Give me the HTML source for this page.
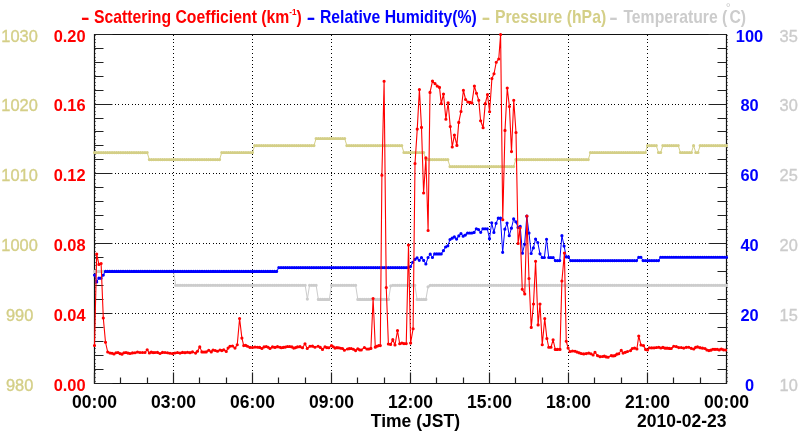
<!DOCTYPE html>
<html><head><meta charset="utf-8"><title>Scattering Coefficient / RH / Pressure / Temperature</title>
<style>html,body{margin:0;padding:0;background:#fff;width:800px;height:434px;overflow:hidden}svg{display:block}text{font-variant-ligatures:none;font-kerning:normal}</style>
</head><body>
<svg width="800" height="434" viewBox="0 0 800 434">
<rect width="800" height="434" fill="#fff"/>
<path d="M173.5 35V383 M252.5 35V383 M331.5 35V383 M410.5 35V383 M489.5 35V383 M568.5 35V383 M647.5 35V383" stroke="#000" stroke-width="1" stroke-dasharray="1 3 1 2 1 3 1 2 1 3" fill="none"/>
<path d="M95 313.5H726 M95 243.5H726 M95 173.5H726 M95 104.5H726" stroke="#000" stroke-width="1" stroke-dasharray="1 2 1 2 1 3 1 2 1 2 1 3 1 2 1 3" fill="none"/>
<path d="M95.5 35V383M727.5 35V383" stroke="#000" stroke-width="1" stroke-dasharray="1 3 1 2 1 3 1 2 1 3" opacity="0.5" fill="none"/>
<path d="M94.5 34.5H726.5V383.5H94.5Z" stroke="#111" stroke-width="1.2" fill="none"/>
<path d="M94.5 383.5h18 M726.5 383.5h-18 M94.5 369.5h9 M726.5 369.5h-9 M94.5 355.5h9 M726.5 355.5h-9 M94.5 341.5h9 M726.5 341.5h-9 M94.5 327.5h9 M726.5 327.5h-9 M94.5 313.5h18 M726.5 313.5h-18 M94.5 299.5h9 M726.5 299.5h-9 M94.5 285.5h9 M726.5 285.5h-9 M94.5 271.5h9 M726.5 271.5h-9 M94.5 257.5h9 M726.5 257.5h-9 M94.5 243.5h18 M726.5 243.5h-18 M94.5 229.5h9 M726.5 229.5h-9 M94.5 215.5h9 M726.5 215.5h-9 M94.5 201.5h9 M726.5 201.5h-9 M94.5 187.5h9 M726.5 187.5h-9 M94.5 173.5h18 M726.5 173.5h-18 M94.5 159.5h9 M726.5 159.5h-9 M94.5 145.5h9 M726.5 145.5h-9 M94.5 131.5h9 M726.5 131.5h-9 M94.5 118.5h9 M726.5 118.5h-9 M94.5 104.5h18 M726.5 104.5h-18 M94.5 90.5h9 M726.5 90.5h-9 M94.5 76.5h9 M726.5 76.5h-9 M94.5 62.5h9 M726.5 62.5h-9 M94.5 48.5h9 M726.5 48.5h-9 M94.5 34.5h18 M726.5 34.5h-18 M94.5 383.5v-11 M120.5 383.5v-6 M147.5 383.5v-6 M173.5 383.5v-11 M199.5 383.5v-6 M226.5 383.5v-6 M252.5 383.5v-11 M278.5 383.5v-6 M305.5 383.5v-6 M331.5 383.5v-11 M357.5 383.5v-6 M384.5 383.5v-6 M410.5 383.5v-11 M436.5 383.5v-6 M463.5 383.5v-6 M489.5 383.5v-11 M515.5 383.5v-6 M542.5 383.5v-6 M568.5 383.5v-11 M594.5 383.5v-6 M621.5 383.5v-6 M647.5 383.5v-11 M673.5 383.5v-6 M700.5 383.5v-6 M726.5 383.5v-11" stroke="#222" stroke-width="1.2" fill="none"/>
<polyline points="94.50,152.60 96.69,152.60 98.89,152.60 101.08,152.60 103.28,152.60 105.47,152.60 107.67,152.60 109.86,152.60 112.06,152.60 114.25,152.60 116.44,152.60 118.64,152.60 120.83,152.60 123.03,152.60 125.22,152.60 127.42,152.60 129.61,152.60 131.81,152.60 134.00,152.60 136.19,152.60 138.39,152.60 140.58,152.60 142.78,152.60 144.97,152.60 147.17,152.60 149.36,159.60 151.56,159.60 153.75,159.60 155.94,159.60 158.14,159.60 160.33,159.60 162.53,159.60 164.72,159.60 166.92,159.60 169.11,159.60 171.31,159.60 173.50,159.60 175.69,159.60 177.89,159.60 180.08,159.60 182.28,159.60 184.47,159.60 186.67,159.60 188.86,159.60 191.06,159.60 193.25,159.60 195.44,159.60 197.64,159.60 199.83,159.60 202.03,159.60 204.22,159.60 206.42,159.60 208.61,159.60 210.81,159.60 213.00,159.60 215.19,159.60 217.39,159.60 219.58,159.60 221.78,152.50 223.97,152.50 226.17,152.50 228.36,152.50 230.56,152.50 232.75,152.50 234.94,152.50 237.14,152.50 239.33,152.50 241.53,152.50 243.72,152.50 245.92,152.50 248.11,152.50 250.31,152.50 252.50,152.50 254.69,145.60 256.89,145.60 259.08,145.60 261.28,145.60 263.47,145.60 265.67,145.60 267.86,145.60 270.06,145.60 272.25,145.60 274.44,145.60 276.64,145.60 278.83,145.60 281.03,145.60 283.22,145.60 285.42,145.60 287.61,145.60 289.81,145.60 292.00,145.60 294.19,145.60 296.39,145.60 298.58,145.60 300.78,145.60 302.97,145.60 305.17,145.60 307.36,145.60 309.56,145.60 311.75,145.60 313.94,145.60 316.14,138.50 318.33,138.50 320.53,138.50 322.72,138.50 324.92,138.50 327.11,138.50 329.31,138.50 331.50,138.50 333.69,138.50 335.89,138.50 338.08,138.50 340.28,138.50 342.47,138.50 344.67,138.50 346.86,145.60 349.06,145.60 351.25,145.60 353.44,145.60 355.64,145.60 357.83,145.60 360.03,145.60 362.22,145.60 364.42,145.60 366.61,145.60 368.81,145.60 371.00,145.60 373.19,145.60 375.39,145.60 377.58,145.60 379.78,145.60 381.97,145.60 384.17,145.60 386.36,145.60 388.56,145.60 390.75,145.60 392.94,145.60 395.14,145.60 397.33,145.60 399.53,145.60 401.72,145.60 403.92,152.50 406.11,152.50 408.31,152.50 410.50,152.50 412.69,152.50 414.89,152.50 417.08,152.50 419.28,152.50 421.47,152.50 423.67,152.50 425.86,159.60 428.06,159.60 430.25,159.60 432.44,159.60 434.64,159.60 436.83,159.60 439.03,159.60 441.22,159.60 443.42,159.60 445.61,159.60 447.81,159.60 450.00,166.60 452.19,166.60 454.39,166.60 456.58,166.60 458.78,166.60 460.97,166.60 463.17,166.60 465.36,166.60 467.56,166.60 469.75,166.60 471.94,166.60 474.14,166.60 476.33,166.60 478.53,166.60 480.72,166.60 482.92,166.60 485.11,166.60 487.31,166.60 489.50,166.60 491.69,166.60 493.89,166.60 496.08,166.60 498.28,166.60 500.47,166.60 502.67,166.60 504.86,166.60 507.06,166.60 509.25,166.60 511.44,166.60 513.64,166.60 515.83,159.60 518.03,159.60 520.22,159.60 522.42,159.60 524.61,159.60 526.81,159.60 529.00,159.60 531.19,159.60 533.39,159.60 535.58,159.60 537.78,159.60 539.97,159.60 542.17,159.60 544.36,159.60 546.56,159.60 548.75,159.60 550.94,159.60 553.14,159.60 555.33,159.60 557.53,159.60 559.72,159.60 561.92,159.60 564.11,159.60 566.31,159.60 568.50,159.60 570.69,159.60 572.89,159.60 575.08,159.60 577.28,159.60 579.47,159.60 581.67,159.60 583.86,159.60 586.06,159.60 588.25,159.60 590.44,152.50 592.64,152.50 594.83,152.50 597.03,152.50 599.22,152.50 601.42,152.50 603.61,152.50 605.81,152.50 608.00,152.50 610.19,152.50 612.39,152.50 614.58,152.50 616.78,152.50 618.97,152.50 621.17,152.50 623.36,152.50 625.56,152.50 627.75,152.50 629.94,152.50 632.14,152.50 634.33,152.50 636.53,152.50 638.72,152.50 640.92,152.50 643.11,152.50 645.31,152.50 647.50,145.60 649.69,145.60 651.89,145.60 654.08,145.60 656.28,145.60 658.47,152.50 660.67,152.50 662.86,145.60 665.06,145.60 667.25,145.60 669.44,145.60 671.64,145.60 673.83,145.60 676.03,145.60 678.22,145.60 680.42,152.50 682.61,152.50 684.81,152.50 687.00,152.50 689.19,152.50 691.39,152.50 693.58,145.70 695.78,152.50 697.97,152.50 700.17,145.60 702.36,145.60 704.56,145.60 706.75,145.60 708.94,145.60 711.14,145.60 713.33,145.60 715.53,145.60 717.72,145.60 719.92,145.60 722.11,145.60 724.31,145.60 726.50,145.60" fill="none" stroke="#d4cf87" stroke-width="1" stroke-linejoin="round" />
<path d="M94.50 152.60h0M96.69 152.60h0M98.89 152.60h0M101.08 152.60h0M103.28 152.60h0M105.47 152.60h0M107.67 152.60h0M109.86 152.60h0M112.06 152.60h0M114.25 152.60h0M116.44 152.60h0M118.64 152.60h0M120.83 152.60h0M123.03 152.60h0M125.22 152.60h0M127.42 152.60h0M129.61 152.60h0M131.81 152.60h0M134.00 152.60h0M136.19 152.60h0M138.39 152.60h0M140.58 152.60h0M142.78 152.60h0M144.97 152.60h0M147.17 152.60h0M149.36 159.60h0M151.56 159.60h0M153.75 159.60h0M155.94 159.60h0M158.14 159.60h0M160.33 159.60h0M162.53 159.60h0M164.72 159.60h0M166.92 159.60h0M169.11 159.60h0M171.31 159.60h0M173.50 159.60h0M175.69 159.60h0M177.89 159.60h0M180.08 159.60h0M182.28 159.60h0M184.47 159.60h0M186.67 159.60h0M188.86 159.60h0M191.06 159.60h0M193.25 159.60h0M195.44 159.60h0M197.64 159.60h0M199.83 159.60h0M202.03 159.60h0M204.22 159.60h0M206.42 159.60h0M208.61 159.60h0M210.81 159.60h0M213.00 159.60h0M215.19 159.60h0M217.39 159.60h0M219.58 159.60h0M221.78 152.50h0M223.97 152.50h0M226.17 152.50h0M228.36 152.50h0M230.56 152.50h0M232.75 152.50h0M234.94 152.50h0M237.14 152.50h0M239.33 152.50h0M241.53 152.50h0M243.72 152.50h0M245.92 152.50h0M248.11 152.50h0M250.31 152.50h0M252.50 152.50h0M254.69 145.60h0M256.89 145.60h0M259.08 145.60h0M261.28 145.60h0M263.47 145.60h0M265.67 145.60h0M267.86 145.60h0M270.06 145.60h0M272.25 145.60h0M274.44 145.60h0M276.64 145.60h0M278.83 145.60h0M281.03 145.60h0M283.22 145.60h0M285.42 145.60h0M287.61 145.60h0M289.81 145.60h0M292.00 145.60h0M294.19 145.60h0M296.39 145.60h0M298.58 145.60h0M300.78 145.60h0M302.97 145.60h0M305.17 145.60h0M307.36 145.60h0M309.56 145.60h0M311.75 145.60h0M313.94 145.60h0M316.14 138.50h0M318.33 138.50h0M320.53 138.50h0M322.72 138.50h0M324.92 138.50h0M327.11 138.50h0M329.31 138.50h0M331.50 138.50h0M333.69 138.50h0M335.89 138.50h0M338.08 138.50h0M340.28 138.50h0M342.47 138.50h0M344.67 138.50h0M346.86 145.60h0M349.06 145.60h0M351.25 145.60h0M353.44 145.60h0M355.64 145.60h0M357.83 145.60h0M360.03 145.60h0M362.22 145.60h0M364.42 145.60h0M366.61 145.60h0M368.81 145.60h0M371.00 145.60h0M373.19 145.60h0M375.39 145.60h0M377.58 145.60h0M379.78 145.60h0M381.97 145.60h0M384.17 145.60h0M386.36 145.60h0M388.56 145.60h0M390.75 145.60h0M392.94 145.60h0M395.14 145.60h0M397.33 145.60h0M399.53 145.60h0M401.72 145.60h0M403.92 152.50h0M406.11 152.50h0M408.31 152.50h0M410.50 152.50h0M412.69 152.50h0M414.89 152.50h0M417.08 152.50h0M419.28 152.50h0M421.47 152.50h0M423.67 152.50h0M425.86 159.60h0M428.06 159.60h0M430.25 159.60h0M432.44 159.60h0M434.64 159.60h0M436.83 159.60h0M439.03 159.60h0M441.22 159.60h0M443.42 159.60h0M445.61 159.60h0M447.81 159.60h0M450.00 166.60h0M452.19 166.60h0M454.39 166.60h0M456.58 166.60h0M458.78 166.60h0M460.97 166.60h0M463.17 166.60h0M465.36 166.60h0M467.56 166.60h0M469.75 166.60h0M471.94 166.60h0M474.14 166.60h0M476.33 166.60h0M478.53 166.60h0M480.72 166.60h0M482.92 166.60h0M485.11 166.60h0M487.31 166.60h0M489.50 166.60h0M491.69 166.60h0M493.89 166.60h0M496.08 166.60h0M498.28 166.60h0M500.47 166.60h0M502.67 166.60h0M504.86 166.60h0M507.06 166.60h0M509.25 166.60h0M511.44 166.60h0M513.64 166.60h0M515.83 159.60h0M518.03 159.60h0M520.22 159.60h0M522.42 159.60h0M524.61 159.60h0M526.81 159.60h0M529.00 159.60h0M531.19 159.60h0M533.39 159.60h0M535.58 159.60h0M537.78 159.60h0M539.97 159.60h0M542.17 159.60h0M544.36 159.60h0M546.56 159.60h0M548.75 159.60h0M550.94 159.60h0M553.14 159.60h0M555.33 159.60h0M557.53 159.60h0M559.72 159.60h0M561.92 159.60h0M564.11 159.60h0M566.31 159.60h0M568.50 159.60h0M570.69 159.60h0M572.89 159.60h0M575.08 159.60h0M577.28 159.60h0M579.47 159.60h0M581.67 159.60h0M583.86 159.60h0M586.06 159.60h0M588.25 159.60h0M590.44 152.50h0M592.64 152.50h0M594.83 152.50h0M597.03 152.50h0M599.22 152.50h0M601.42 152.50h0M603.61 152.50h0M605.81 152.50h0M608.00 152.50h0M610.19 152.50h0M612.39 152.50h0M614.58 152.50h0M616.78 152.50h0M618.97 152.50h0M621.17 152.50h0M623.36 152.50h0M625.56 152.50h0M627.75 152.50h0M629.94 152.50h0M632.14 152.50h0M634.33 152.50h0M636.53 152.50h0M638.72 152.50h0M640.92 152.50h0M643.11 152.50h0M645.31 152.50h0M647.50 145.60h0M649.69 145.60h0M651.89 145.60h0M654.08 145.60h0M656.28 145.60h0M658.47 152.50h0M660.67 152.50h0M662.86 145.60h0M665.06 145.60h0M667.25 145.60h0M669.44 145.60h0M671.64 145.60h0M673.83 145.60h0M676.03 145.60h0M678.22 145.60h0M680.42 152.50h0M682.61 152.50h0M684.81 152.50h0M687.00 152.50h0M689.19 152.50h0M691.39 152.50h0M693.58 145.70h0M695.78 152.50h0M697.97 152.50h0M700.17 145.60h0M702.36 145.60h0M704.56 145.60h0M706.75 145.60h0M708.94 145.60h0M711.14 145.60h0M713.33 145.60h0M715.53 145.60h0M717.72 145.60h0M719.92 145.60h0M722.11 145.60h0M724.31 145.60h0M726.50 145.60h0" stroke="#d4cf87" stroke-width="3.2" stroke-linecap="round" fill="none"/>
<polyline points="94.50,271.40 96.69,271.40 98.89,271.40 101.08,271.40 103.28,271.40 105.47,271.40 107.67,271.40 109.86,271.40 112.06,271.40 114.25,271.40 116.44,271.40 118.64,271.40 120.83,271.40 123.03,271.40 125.22,271.40 127.42,271.40 129.61,271.40 131.81,271.40 134.00,271.40 136.19,271.40 138.39,271.40 140.58,271.40 142.78,271.40 144.97,271.40 147.17,271.40 149.36,271.40 151.56,271.40 153.75,271.40 155.94,271.40 158.14,271.40 160.33,271.40 162.53,271.40 164.72,271.40 166.92,271.40 169.11,271.40 171.31,271.40 173.50,271.40 175.69,285.30 177.89,285.30 180.08,285.30 182.28,285.30 184.47,285.30 186.67,285.30 188.86,285.30 191.06,285.30 193.25,285.30 195.44,285.30 197.64,285.30 199.83,285.30 202.03,285.30 204.22,285.30 206.42,285.30 208.61,285.30 210.81,285.30 213.00,285.30 215.19,285.30 217.39,285.30 219.58,285.30 221.78,285.30 223.97,285.30 226.17,285.30 228.36,285.30 230.56,285.30 232.75,285.30 234.94,285.30 237.14,285.30 239.33,285.30 241.53,285.30 243.72,285.30 245.92,285.30 248.11,285.30 250.31,285.30 252.50,285.30 254.69,285.30 256.89,285.30 259.08,285.30 261.28,285.30 263.47,285.30 265.67,285.30 267.86,285.30 270.06,285.30 272.25,285.30 274.44,285.30 276.64,285.30 278.83,285.30 281.03,285.30 283.22,285.30 285.42,285.30 287.61,285.30 289.81,285.30 292.00,285.30 294.19,285.30 296.39,285.30 298.58,285.30 300.78,285.30 302.97,285.30 305.17,285.30 307.36,299.10 309.56,285.30 311.75,285.30 313.94,285.30 316.14,285.30 318.33,299.40 320.53,299.40 322.72,299.40 324.92,299.40 327.11,299.40 329.31,299.40 331.50,285.30 333.69,285.30 335.89,285.30 338.08,285.30 340.28,285.30 342.47,285.30 344.67,285.30 346.86,285.30 349.06,285.30 351.25,285.30 353.44,285.30 355.64,285.30 357.83,299.40 360.03,299.40 362.22,299.40 364.42,299.40 366.61,299.40 368.81,299.40 371.00,299.40 373.19,299.40 375.39,299.40 377.58,299.40 379.78,299.40 381.97,299.40 384.17,299.40 386.36,299.40 388.56,299.40 390.75,285.80 392.94,285.30 395.14,285.30 397.33,285.30 399.53,285.30 401.72,285.30 403.92,285.30 406.11,285.30 408.31,285.30 410.50,285.30 412.69,285.30 414.89,285.30 417.08,299.40 419.28,299.40 421.47,299.40 423.67,299.40 425.86,299.40 428.06,286.87 430.25,285.30 432.44,285.30 434.64,285.30 436.83,285.30 439.03,285.30 441.22,285.30 443.42,285.30 445.61,285.30 447.81,285.30 450.00,285.30 452.19,285.30 454.39,285.30 456.58,285.30 458.78,285.30 460.97,285.30 463.17,285.30 465.36,285.30 467.56,285.30 469.75,285.30 471.94,285.30 474.14,285.30 476.33,285.30 478.53,285.30 480.72,285.30 482.92,285.30 485.11,285.30 487.31,285.30 489.50,285.30 491.69,285.30 493.89,285.30 496.08,285.30 498.28,285.30 500.47,285.30 502.67,285.30 504.86,285.30 507.06,285.30 509.25,285.30 511.44,285.30 513.64,285.30 515.83,285.30 518.03,285.30 520.22,285.30 522.42,285.30 524.61,285.30 526.81,285.30 529.00,285.30 531.19,285.30 533.39,285.30 535.58,285.30 537.78,285.30 539.97,285.30 542.17,285.30 544.36,285.30 546.56,285.30 548.75,285.30 550.94,285.30 553.14,285.30 555.33,285.30 557.53,285.30 559.72,285.30 561.92,285.30 564.11,285.30 566.31,285.30 568.50,285.30 570.69,285.30 572.89,285.30 575.08,285.30 577.28,285.30 579.47,285.30 581.67,285.30 583.86,285.30 586.06,285.30 588.25,285.30 590.44,285.30 592.64,285.30 594.83,285.30 597.03,285.30 599.22,285.30 601.42,285.30 603.61,285.30 605.81,285.30 608.00,285.30 610.19,285.30 612.39,285.30 614.58,285.30 616.78,285.30 618.97,285.30 621.17,285.30 623.36,285.30 625.56,285.30 627.75,285.30 629.94,285.30 632.14,285.30 634.33,285.30 636.53,285.30 638.72,285.30 640.92,285.30 643.11,285.30 645.31,285.30 647.50,285.30 649.69,285.30 651.89,285.30 654.08,285.30 656.28,285.30 658.47,285.30 660.67,285.30 662.86,285.30 665.06,285.30 667.25,285.30 669.44,285.30 671.64,285.30 673.83,285.30 676.03,285.30 678.22,285.30 680.42,285.30 682.61,285.30 684.81,285.30 687.00,285.30 689.19,285.30 691.39,285.30 693.58,285.30 695.78,285.30 697.97,285.30 700.17,285.30 702.36,285.30 704.56,285.30 706.75,285.30 708.94,285.30 711.14,285.30 713.33,285.30 715.53,285.30 717.72,285.30 719.92,285.30 722.11,285.30 724.31,285.30 726.50,285.30" fill="none" stroke="#cccccc" stroke-width="1" stroke-linejoin="round" />
<path d="M94.50 271.40h0M96.69 271.40h0M98.89 271.40h0M101.08 271.40h0M103.28 271.40h0M105.47 271.40h0M107.67 271.40h0M109.86 271.40h0M112.06 271.40h0M114.25 271.40h0M116.44 271.40h0M118.64 271.40h0M120.83 271.40h0M123.03 271.40h0M125.22 271.40h0M127.42 271.40h0M129.61 271.40h0M131.81 271.40h0M134.00 271.40h0M136.19 271.40h0M138.39 271.40h0M140.58 271.40h0M142.78 271.40h0M144.97 271.40h0M147.17 271.40h0M149.36 271.40h0M151.56 271.40h0M153.75 271.40h0M155.94 271.40h0M158.14 271.40h0M160.33 271.40h0M162.53 271.40h0M164.72 271.40h0M166.92 271.40h0M169.11 271.40h0M171.31 271.40h0M173.50 271.40h0M175.69 285.30h0M177.89 285.30h0M180.08 285.30h0M182.28 285.30h0M184.47 285.30h0M186.67 285.30h0M188.86 285.30h0M191.06 285.30h0M193.25 285.30h0M195.44 285.30h0M197.64 285.30h0M199.83 285.30h0M202.03 285.30h0M204.22 285.30h0M206.42 285.30h0M208.61 285.30h0M210.81 285.30h0M213.00 285.30h0M215.19 285.30h0M217.39 285.30h0M219.58 285.30h0M221.78 285.30h0M223.97 285.30h0M226.17 285.30h0M228.36 285.30h0M230.56 285.30h0M232.75 285.30h0M234.94 285.30h0M237.14 285.30h0M239.33 285.30h0M241.53 285.30h0M243.72 285.30h0M245.92 285.30h0M248.11 285.30h0M250.31 285.30h0M252.50 285.30h0M254.69 285.30h0M256.89 285.30h0M259.08 285.30h0M261.28 285.30h0M263.47 285.30h0M265.67 285.30h0M267.86 285.30h0M270.06 285.30h0M272.25 285.30h0M274.44 285.30h0M276.64 285.30h0M278.83 285.30h0M281.03 285.30h0M283.22 285.30h0M285.42 285.30h0M287.61 285.30h0M289.81 285.30h0M292.00 285.30h0M294.19 285.30h0M296.39 285.30h0M298.58 285.30h0M300.78 285.30h0M302.97 285.30h0M305.17 285.30h0M307.36 299.10h0M309.56 285.30h0M311.75 285.30h0M313.94 285.30h0M316.14 285.30h0M318.33 299.40h0M320.53 299.40h0M322.72 299.40h0M324.92 299.40h0M327.11 299.40h0M329.31 299.40h0M331.50 285.30h0M333.69 285.30h0M335.89 285.30h0M338.08 285.30h0M340.28 285.30h0M342.47 285.30h0M344.67 285.30h0M346.86 285.30h0M349.06 285.30h0M351.25 285.30h0M353.44 285.30h0M355.64 285.30h0M357.83 299.40h0M360.03 299.40h0M362.22 299.40h0M364.42 299.40h0M366.61 299.40h0M368.81 299.40h0M371.00 299.40h0M373.19 299.40h0M375.39 299.40h0M377.58 299.40h0M379.78 299.40h0M381.97 299.40h0M384.17 299.40h0M386.36 299.40h0M388.56 299.40h0M390.75 285.80h0M392.94 285.30h0M395.14 285.30h0M397.33 285.30h0M399.53 285.30h0M401.72 285.30h0M403.92 285.30h0M406.11 285.30h0M408.31 285.30h0M410.50 285.30h0M412.69 285.30h0M414.89 285.30h0M417.08 299.40h0M419.28 299.40h0M421.47 299.40h0M423.67 299.40h0M425.86 299.40h0M428.06 286.87h0M430.25 285.30h0M432.44 285.30h0M434.64 285.30h0M436.83 285.30h0M439.03 285.30h0M441.22 285.30h0M443.42 285.30h0M445.61 285.30h0M447.81 285.30h0M450.00 285.30h0M452.19 285.30h0M454.39 285.30h0M456.58 285.30h0M458.78 285.30h0M460.97 285.30h0M463.17 285.30h0M465.36 285.30h0M467.56 285.30h0M469.75 285.30h0M471.94 285.30h0M474.14 285.30h0M476.33 285.30h0M478.53 285.30h0M480.72 285.30h0M482.92 285.30h0M485.11 285.30h0M487.31 285.30h0M489.50 285.30h0M491.69 285.30h0M493.89 285.30h0M496.08 285.30h0M498.28 285.30h0M500.47 285.30h0M502.67 285.30h0M504.86 285.30h0M507.06 285.30h0M509.25 285.30h0M511.44 285.30h0M513.64 285.30h0M515.83 285.30h0M518.03 285.30h0M520.22 285.30h0M522.42 285.30h0M524.61 285.30h0M526.81 285.30h0M529.00 285.30h0M531.19 285.30h0M533.39 285.30h0M535.58 285.30h0M537.78 285.30h0M539.97 285.30h0M542.17 285.30h0M544.36 285.30h0M546.56 285.30h0M548.75 285.30h0M550.94 285.30h0M553.14 285.30h0M555.33 285.30h0M557.53 285.30h0M559.72 285.30h0M561.92 285.30h0M564.11 285.30h0M566.31 285.30h0M568.50 285.30h0M570.69 285.30h0M572.89 285.30h0M575.08 285.30h0M577.28 285.30h0M579.47 285.30h0M581.67 285.30h0M583.86 285.30h0M586.06 285.30h0M588.25 285.30h0M590.44 285.30h0M592.64 285.30h0M594.83 285.30h0M597.03 285.30h0M599.22 285.30h0M601.42 285.30h0M603.61 285.30h0M605.81 285.30h0M608.00 285.30h0M610.19 285.30h0M612.39 285.30h0M614.58 285.30h0M616.78 285.30h0M618.97 285.30h0M621.17 285.30h0M623.36 285.30h0M625.56 285.30h0M627.75 285.30h0M629.94 285.30h0M632.14 285.30h0M634.33 285.30h0M636.53 285.30h0M638.72 285.30h0M640.92 285.30h0M643.11 285.30h0M645.31 285.30h0M647.50 285.30h0M649.69 285.30h0M651.89 285.30h0M654.08 285.30h0M656.28 285.30h0M658.47 285.30h0M660.67 285.30h0M662.86 285.30h0M665.06 285.30h0M667.25 285.30h0M669.44 285.30h0M671.64 285.30h0M673.83 285.30h0M676.03 285.30h0M678.22 285.30h0M680.42 285.30h0M682.61 285.30h0M684.81 285.30h0M687.00 285.30h0M689.19 285.30h0M691.39 285.30h0M693.58 285.30h0M695.78 285.30h0M697.97 285.30h0M700.17 285.30h0M702.36 285.30h0M704.56 285.30h0M706.75 285.30h0M708.94 285.30h0M711.14 285.30h0M713.33 285.30h0M715.53 285.30h0M717.72 285.30h0M719.92 285.30h0M722.11 285.30h0M724.31 285.30h0M726.50 285.30h0" stroke="#cccccc" stroke-width="3.2" stroke-linecap="round" fill="none"/>
<polyline points="94.50,275.10 96.69,281.88 98.89,278.22 101.08,278.20 103.28,275.03 105.47,271.45 107.67,271.40 109.86,271.40 112.06,271.40 114.25,271.40 116.44,271.40 118.64,271.40 120.83,271.40 123.03,271.40 125.22,271.40 127.42,271.40 129.61,271.40 131.81,271.40 134.00,271.40 136.19,271.40 138.39,271.40 140.58,271.40 142.78,271.40 144.97,271.40 147.17,271.40 149.36,271.40 151.56,271.40 153.75,271.40 155.94,271.40 158.14,271.40 160.33,271.40 162.53,271.40 164.72,271.40 166.92,271.40 169.11,271.40 171.31,271.40 173.50,271.40 175.69,271.40 177.89,271.40 180.08,271.40 182.28,271.40 184.47,271.40 186.67,271.40 188.86,271.40 191.06,271.40 193.25,271.40 195.44,271.40 197.64,271.40 199.83,271.40 202.03,271.40 204.22,271.40 206.42,271.40 208.61,271.40 210.81,271.40 213.00,271.40 215.19,271.40 217.39,271.40 219.58,271.40 221.78,271.40 223.97,271.40 226.17,271.40 228.36,271.40 230.56,271.40 232.75,271.40 234.94,271.40 237.14,271.40 239.33,271.40 241.53,271.40 243.72,271.40 245.92,271.40 248.11,271.40 250.31,271.40 252.50,271.40 254.69,271.40 256.89,271.40 259.08,271.40 261.28,271.40 263.47,271.40 265.67,271.40 267.86,271.40 270.06,271.40 272.25,271.40 274.44,271.40 276.64,271.40 278.83,267.60 281.03,267.60 283.22,267.60 285.42,267.60 287.61,267.60 289.81,267.60 292.00,267.60 294.19,267.60 296.39,267.60 298.58,267.60 300.78,267.60 302.97,267.60 305.17,267.60 307.36,267.60 309.56,267.60 311.75,267.60 313.94,267.60 316.14,267.60 318.33,267.60 320.53,267.60 322.72,267.60 324.92,267.60 327.11,267.60 329.31,267.60 331.50,267.60 333.69,267.60 335.89,267.60 338.08,267.60 340.28,267.60 342.47,267.60 344.67,267.60 346.86,267.60 349.06,267.60 351.25,267.60 353.44,267.60 355.64,267.60 357.83,267.60 360.03,267.60 362.22,267.60 364.42,267.60 366.61,267.60 368.81,267.60 371.00,267.60 373.19,267.60 375.39,267.60 377.58,267.60 379.78,267.60 381.97,267.60 384.17,267.60 386.36,267.60 388.56,267.60 390.75,267.60 392.94,267.60 395.14,267.60 397.33,267.60 399.53,267.60 401.72,267.60 403.92,267.60 406.11,267.60 408.31,267.60 410.50,266.62 412.69,262.33 414.89,259.46 417.08,257.88 419.28,260.32 421.47,257.53 423.67,260.38 425.86,264.02 428.06,257.51 430.25,254.13 432.44,257.50 434.64,253.90 436.83,253.90 439.03,253.90 441.22,253.90 443.42,250.64 445.61,247.00 447.81,245.79 450.00,239.50 452.19,238.18 454.39,236.89 456.58,239.03 458.78,235.95 460.97,233.59 463.17,236.14 465.36,235.09 467.56,233.00 469.75,233.00 471.94,233.00 474.14,232.47 476.33,228.75 478.53,229.59 480.72,232.31 482.92,228.75 485.11,228.75 487.31,228.75 489.50,238.67 491.69,222.74 493.89,232.47 496.08,223.29 498.28,218.10 500.47,218.10 502.67,252.37 504.86,229.20 507.06,223.07 509.25,235.72 511.44,228.19 513.64,218.97 515.83,221.83 518.03,227.41 520.22,226.38 522.42,253.14 524.61,244.35 526.81,216.13 529.00,233.12 531.19,253.48 533.39,247.93 535.58,239.07 537.78,242.57 539.97,253.84 542.17,257.50 544.36,257.50 546.56,239.26 548.75,257.50 550.94,257.50 553.14,257.56 555.33,260.60 557.53,260.60 559.72,260.60 561.92,235.68 564.11,246.12 566.31,256.90 568.50,256.90 570.69,260.60 572.89,260.60 575.08,260.60 577.28,260.60 579.47,260.60 581.67,260.60 583.86,260.60 586.06,260.60 588.25,260.60 590.44,260.60 592.64,260.60 594.83,260.60 597.03,260.60 599.22,260.60 601.42,260.60 603.61,260.60 605.81,260.60 608.00,260.60 610.19,260.60 612.39,260.60 614.58,260.60 616.78,260.60 618.97,260.60 621.17,260.60 623.36,260.60 625.56,260.60 627.75,260.60 629.94,260.60 632.14,260.60 634.33,260.60 636.53,260.60 638.72,257.32 640.92,257.25 643.11,260.60 645.31,260.60 647.50,260.60 649.69,260.60 651.89,260.60 654.08,260.60 656.28,260.60 658.47,260.60 660.67,257.25 662.86,257.25 665.06,257.25 667.25,257.25 669.44,257.25 671.64,257.25 673.83,257.25 676.03,257.25 678.22,257.25 680.42,257.25 682.61,257.25 684.81,257.25 687.00,257.25 689.19,257.25 691.39,257.25 693.58,257.25 695.78,257.25 697.97,257.25 700.17,257.25 702.36,257.25 704.56,257.25 706.75,257.25 708.94,257.25 711.14,257.25 713.33,257.25 715.53,257.25 717.72,257.25 719.92,257.25 722.11,257.25 724.31,257.25 726.50,257.25" fill="none" stroke="#0000ff" stroke-width="1" stroke-linejoin="round" />
<path d="M94.50 275.10h0M96.69 281.88h0M98.89 278.22h0M101.08 278.20h0M103.28 275.03h0M105.47 271.45h0M107.67 271.40h0M109.86 271.40h0M112.06 271.40h0M114.25 271.40h0M116.44 271.40h0M118.64 271.40h0M120.83 271.40h0M123.03 271.40h0M125.22 271.40h0M127.42 271.40h0M129.61 271.40h0M131.81 271.40h0M134.00 271.40h0M136.19 271.40h0M138.39 271.40h0M140.58 271.40h0M142.78 271.40h0M144.97 271.40h0M147.17 271.40h0M149.36 271.40h0M151.56 271.40h0M153.75 271.40h0M155.94 271.40h0M158.14 271.40h0M160.33 271.40h0M162.53 271.40h0M164.72 271.40h0M166.92 271.40h0M169.11 271.40h0M171.31 271.40h0M173.50 271.40h0M175.69 271.40h0M177.89 271.40h0M180.08 271.40h0M182.28 271.40h0M184.47 271.40h0M186.67 271.40h0M188.86 271.40h0M191.06 271.40h0M193.25 271.40h0M195.44 271.40h0M197.64 271.40h0M199.83 271.40h0M202.03 271.40h0M204.22 271.40h0M206.42 271.40h0M208.61 271.40h0M210.81 271.40h0M213.00 271.40h0M215.19 271.40h0M217.39 271.40h0M219.58 271.40h0M221.78 271.40h0M223.97 271.40h0M226.17 271.40h0M228.36 271.40h0M230.56 271.40h0M232.75 271.40h0M234.94 271.40h0M237.14 271.40h0M239.33 271.40h0M241.53 271.40h0M243.72 271.40h0M245.92 271.40h0M248.11 271.40h0M250.31 271.40h0M252.50 271.40h0M254.69 271.40h0M256.89 271.40h0M259.08 271.40h0M261.28 271.40h0M263.47 271.40h0M265.67 271.40h0M267.86 271.40h0M270.06 271.40h0M272.25 271.40h0M274.44 271.40h0M276.64 271.40h0M278.83 267.60h0M281.03 267.60h0M283.22 267.60h0M285.42 267.60h0M287.61 267.60h0M289.81 267.60h0M292.00 267.60h0M294.19 267.60h0M296.39 267.60h0M298.58 267.60h0M300.78 267.60h0M302.97 267.60h0M305.17 267.60h0M307.36 267.60h0M309.56 267.60h0M311.75 267.60h0M313.94 267.60h0M316.14 267.60h0M318.33 267.60h0M320.53 267.60h0M322.72 267.60h0M324.92 267.60h0M327.11 267.60h0M329.31 267.60h0M331.50 267.60h0M333.69 267.60h0M335.89 267.60h0M338.08 267.60h0M340.28 267.60h0M342.47 267.60h0M344.67 267.60h0M346.86 267.60h0M349.06 267.60h0M351.25 267.60h0M353.44 267.60h0M355.64 267.60h0M357.83 267.60h0M360.03 267.60h0M362.22 267.60h0M364.42 267.60h0M366.61 267.60h0M368.81 267.60h0M371.00 267.60h0M373.19 267.60h0M375.39 267.60h0M377.58 267.60h0M379.78 267.60h0M381.97 267.60h0M384.17 267.60h0M386.36 267.60h0M388.56 267.60h0M390.75 267.60h0M392.94 267.60h0M395.14 267.60h0M397.33 267.60h0M399.53 267.60h0M401.72 267.60h0M403.92 267.60h0M406.11 267.60h0M408.31 267.60h0M410.50 266.62h0M412.69 262.33h0M414.89 259.46h0M417.08 257.88h0M419.28 260.32h0M421.47 257.53h0M423.67 260.38h0M425.86 264.02h0M428.06 257.51h0M430.25 254.13h0M432.44 257.50h0M434.64 253.90h0M436.83 253.90h0M439.03 253.90h0M441.22 253.90h0M443.42 250.64h0M445.61 247.00h0M447.81 245.79h0M450.00 239.50h0M452.19 238.18h0M454.39 236.89h0M456.58 239.03h0M458.78 235.95h0M460.97 233.59h0M463.17 236.14h0M465.36 235.09h0M467.56 233.00h0M469.75 233.00h0M471.94 233.00h0M474.14 232.47h0M476.33 228.75h0M478.53 229.59h0M480.72 232.31h0M482.92 228.75h0M485.11 228.75h0M487.31 228.75h0M489.50 238.67h0M491.69 222.74h0M493.89 232.47h0M496.08 223.29h0M498.28 218.10h0M500.47 218.10h0M502.67 252.37h0M504.86 229.20h0M507.06 223.07h0M509.25 235.72h0M511.44 228.19h0M513.64 218.97h0M515.83 221.83h0M518.03 227.41h0M520.22 226.38h0M522.42 253.14h0M524.61 244.35h0M526.81 216.13h0M529.00 233.12h0M531.19 253.48h0M533.39 247.93h0M535.58 239.07h0M537.78 242.57h0M539.97 253.84h0M542.17 257.50h0M544.36 257.50h0M546.56 239.26h0M548.75 257.50h0M550.94 257.50h0M553.14 257.56h0M555.33 260.60h0M557.53 260.60h0M559.72 260.60h0M561.92 235.68h0M564.11 246.12h0M566.31 256.90h0M568.50 256.90h0M570.69 260.60h0M572.89 260.60h0M575.08 260.60h0M577.28 260.60h0M579.47 260.60h0M581.67 260.60h0M583.86 260.60h0M586.06 260.60h0M588.25 260.60h0M590.44 260.60h0M592.64 260.60h0M594.83 260.60h0M597.03 260.60h0M599.22 260.60h0M601.42 260.60h0M603.61 260.60h0M605.81 260.60h0M608.00 260.60h0M610.19 260.60h0M612.39 260.60h0M614.58 260.60h0M616.78 260.60h0M618.97 260.60h0M621.17 260.60h0M623.36 260.60h0M625.56 260.60h0M627.75 260.60h0M629.94 260.60h0M632.14 260.60h0M634.33 260.60h0M636.53 260.60h0M638.72 257.32h0M640.92 257.25h0M643.11 260.60h0M645.31 260.60h0M647.50 260.60h0M649.69 260.60h0M651.89 260.60h0M654.08 260.60h0M656.28 260.60h0M658.47 260.60h0M660.67 257.25h0M662.86 257.25h0M665.06 257.25h0M667.25 257.25h0M669.44 257.25h0M671.64 257.25h0M673.83 257.25h0M676.03 257.25h0M678.22 257.25h0M680.42 257.25h0M682.61 257.25h0M684.81 257.25h0M687.00 257.25h0M689.19 257.25h0M691.39 257.25h0M693.58 257.25h0M695.78 257.25h0M697.97 257.25h0M700.17 257.25h0M702.36 257.25h0M704.56 257.25h0M706.75 257.25h0M708.94 257.25h0M711.14 257.25h0M713.33 257.25h0M715.53 257.25h0M717.72 257.25h0M719.92 257.25h0M722.11 257.25h0M724.31 257.25h0M726.50 257.25h0" stroke="#0000ff" stroke-width="3.2" stroke-linecap="round" fill="none"/>
<polyline points="94.50,345.50 96.70,254.00 98.90,264.40 101.10,263.50 103.30,318.00 105.50,342.25 107.70,352.00 110.00,353.00 112.00,353.25 114.00,354.00 116.00,352.76 118.00,352.50 120.00,353.56 122.00,354.20 124.00,352.75 126.00,352.50 128.00,353.05 130.00,353.50 132.50,352.94 135.00,352.75 137.50,352.01 140.00,352.50 142.50,352.51 145.00,352.50 147.20,349.75 149.40,353.00 151.27,352.19 153.13,352.57 155.00,352.50 157.50,352.40 160.00,353.50 162.50,352.43 165.00,352.50 167.50,352.77 170.00,353.25 172.50,353.58 175.00,353.00 177.50,352.52 180.00,353.10 182.50,352.43 185.00,352.71 187.50,352.25 190.00,352.70 192.50,351.90 195.60,353.10 197.50,351.25 199.75,346.90 201.90,351.90 204.07,352.01 206.25,351.90 208.75,350.25 211.25,351.90 213.10,350.00 215.30,350.48 217.50,351.25 220.00,350.00 221.88,350.54 223.75,349.75 226.25,351.50 228.10,348.10 230.00,346.25 232.50,346.00 235.00,348.10 237.25,344.75 239.60,318.50 241.90,338.10 243.75,345.60 245.62,345.29 247.50,346.25 250.00,347.38 252.50,347.50 255.00,347.08 257.50,347.25 259.70,347.38 261.90,348.50 264.07,346.96 266.25,346.50 268.12,347.23 270.00,348.50 272.50,346.90 275.00,347.46 277.50,346.69 280.00,347.25 281.25,347.75 283.33,347.45 285.42,347.11 287.50,346.50 289.70,346.52 291.90,346.90 293.75,348.10 295.62,347.57 297.50,346.90 300.00,346.71 302.50,347.75 305.00,343.75 307.25,348.50 310.00,346.25 312.50,346.13 315.00,347.25 318.10,346.25 320.30,347.41 322.50,349.40 325.00,346.90 326.88,347.58 328.75,347.75 331.50,345.60 333.25,346.75 335.00,348.10 336.88,347.66 338.75,347.75 340.62,348.24 342.50,348.50 344.40,350.25 347.50,349.00 349.38,348.68 351.25,348.50 353.43,349.27 355.60,350.60 357.80,348.75 359.52,349.79 361.25,350.00 364.40,347.50 366.90,349.00 368.90,348.98 370.90,348.40 373.10,298.50 375.30,347.20 376.90,346.25 378.75,345.60 380.30,345.60 381.90,175.25 384.10,81.25 386.25,287.50 388.40,344.00 390.60,344.40 392.80,339.70 395.00,345.00 397.50,330.60 399.70,343.75 401.90,343.10 404.00,343.60 406.25,343.60 408.50,245.10 410.60,343.10 413.10,328.75 415.00,163.50 417.25,129.10 419.40,89.50 421.50,127.40 423.60,193.00 425.90,157.90 428.10,230.50 430.00,92.40 432.50,81.10 435.00,83.60 437.25,86.10 439.50,87.40 441.25,103.60 443.50,94.00 445.90,119.25 448.10,102.75 450.25,126.50 452.25,147.00 454.40,135.00 456.90,145.40 458.75,122.40 461.00,111.50 463.40,90.25 465.60,99.50 467.90,102.00 470.00,102.40 471.90,103.00 474.40,86.10 476.50,93.25 478.75,100.25 480.60,120.75 483.10,127.75 485.25,103.60 487.50,94.60 489.60,111.75 491.90,78.60 494.00,73.75 496.25,62.25 498.75,59.00 500.60,34.50 502.75,219.75 505.00,130.40 507.25,88.00 509.40,106.50 511.50,151.60 513.75,100.25 516.00,132.50 518.10,243.50 520.00,228.10 522.25,289.25 524.75,294.00 526.90,216.00 529.00,278.50 531.25,327.40 533.50,304.00 535.60,261.25 538.10,324.90 540.00,304.00 542.25,344.75 544.75,318.60 546.90,338.50 548.75,347.25 551.00,347.25 553.10,339.75 555.25,349.40 557.50,349.40 560.00,349.40 561.90,281.00 564.40,253.10 566.25,341.25 568.10,348.10 570.00,351.50 572.50,351.02 575.00,351.25 577.08,352.10 579.17,352.79 581.25,353.50 583.75,353.89 586.25,353.55 588.75,353.10 590.92,353.75 593.10,355.00 595.00,352.25 597.50,355.60 600.00,356.72 602.50,356.50 604.37,356.22 606.23,356.89 608.10,357.25 611.25,355.60 613.12,355.96 615.00,355.60 616.88,354.19 618.75,353.75 621.25,350.25 623.10,353.10 625.30,352.28 627.50,351.50 630.60,350.60 632.25,348.50 634.58,348.10 636.90,349.00 638.75,336.00 641.00,345.00 643.50,345.60 645.60,349.40 647.50,350.00 649.40,347.75 651.74,347.86 654.08,347.87 656.41,347.48 658.75,347.25 660.83,347.98 662.92,347.41 665.00,348.15 667.08,348.22 669.17,348.40 671.25,348.50 673.75,346.25 676.25,346.61 678.75,347.56 681.25,347.50 683.75,348.04 686.25,347.30 688.75,347.25 691.25,348.35 693.75,349.00 695.62,347.33 697.50,346.90 700.00,347.72 702.50,348.17 705.00,348.50 706.90,350.00 708.92,350.54 710.95,350.15 712.98,349.25 715.00,349.40 717.12,349.36 719.24,349.88 721.36,349.09 723.48,349.83 725.60,350.00" fill="none" stroke="#ff0000" stroke-width="1.1" stroke-linejoin="round" />
<path d="M94.50 345.50h0M96.70 254.00h0M98.90 264.40h0M101.10 263.50h0M103.30 318.00h0M105.50 342.25h0M107.70 352.00h0M110.00 353.00h0M112.00 353.25h0M114.00 354.00h0M116.00 352.76h0M118.00 352.50h0M120.00 353.56h0M122.00 354.20h0M124.00 352.75h0M126.00 352.50h0M128.00 353.05h0M130.00 353.50h0M132.50 352.94h0M135.00 352.75h0M137.50 352.01h0M140.00 352.50h0M142.50 352.51h0M145.00 352.50h0M147.20 349.75h0M149.40 353.00h0M151.27 352.19h0M153.13 352.57h0M155.00 352.50h0M157.50 352.40h0M160.00 353.50h0M162.50 352.43h0M165.00 352.50h0M167.50 352.77h0M170.00 353.25h0M172.50 353.58h0M175.00 353.00h0M177.50 352.52h0M180.00 353.10h0M182.50 352.43h0M185.00 352.71h0M187.50 352.25h0M190.00 352.70h0M192.50 351.90h0M195.60 353.10h0M197.50 351.25h0M199.75 346.90h0M201.90 351.90h0M204.07 352.01h0M206.25 351.90h0M208.75 350.25h0M211.25 351.90h0M213.10 350.00h0M215.30 350.48h0M217.50 351.25h0M220.00 350.00h0M221.88 350.54h0M223.75 349.75h0M226.25 351.50h0M228.10 348.10h0M230.00 346.25h0M232.50 346.00h0M235.00 348.10h0M237.25 344.75h0M239.60 318.50h0M241.90 338.10h0M243.75 345.60h0M245.62 345.29h0M247.50 346.25h0M250.00 347.38h0M252.50 347.50h0M255.00 347.08h0M257.50 347.25h0M259.70 347.38h0M261.90 348.50h0M264.07 346.96h0M266.25 346.50h0M268.12 347.23h0M270.00 348.50h0M272.50 346.90h0M275.00 347.46h0M277.50 346.69h0M280.00 347.25h0M281.25 347.75h0M283.33 347.45h0M285.42 347.11h0M287.50 346.50h0M289.70 346.52h0M291.90 346.90h0M293.75 348.10h0M295.62 347.57h0M297.50 346.90h0M300.00 346.71h0M302.50 347.75h0M305.00 343.75h0M307.25 348.50h0M310.00 346.25h0M312.50 346.13h0M315.00 347.25h0M318.10 346.25h0M320.30 347.41h0M322.50 349.40h0M325.00 346.90h0M326.88 347.58h0M328.75 347.75h0M331.50 345.60h0M333.25 346.75h0M335.00 348.10h0M336.88 347.66h0M338.75 347.75h0M340.62 348.24h0M342.50 348.50h0M344.40 350.25h0M347.50 349.00h0M349.38 348.68h0M351.25 348.50h0M353.43 349.27h0M355.60 350.60h0M357.80 348.75h0M359.52 349.79h0M361.25 350.00h0M364.40 347.50h0M366.90 349.00h0M368.90 348.98h0M370.90 348.40h0M373.10 298.50h0M375.30 347.20h0M376.90 346.25h0M378.75 345.60h0M380.30 345.60h0M381.90 175.25h0M384.10 81.25h0M386.25 287.50h0M388.40 344.00h0M390.60 344.40h0M392.80 339.70h0M395.00 345.00h0M397.50 330.60h0M399.70 343.75h0M401.90 343.10h0M404.00 343.60h0M406.25 343.60h0M408.50 245.10h0M410.60 343.10h0M413.10 328.75h0M415.00 163.50h0M417.25 129.10h0M419.40 89.50h0M421.50 127.40h0M423.60 193.00h0M425.90 157.90h0M428.10 230.50h0M430.00 92.40h0M432.50 81.10h0M435.00 83.60h0M437.25 86.10h0M439.50 87.40h0M441.25 103.60h0M443.50 94.00h0M445.90 119.25h0M448.10 102.75h0M450.25 126.50h0M452.25 147.00h0M454.40 135.00h0M456.90 145.40h0M458.75 122.40h0M461.00 111.50h0M463.40 90.25h0M465.60 99.50h0M467.90 102.00h0M470.00 102.40h0M471.90 103.00h0M474.40 86.10h0M476.50 93.25h0M478.75 100.25h0M480.60 120.75h0M483.10 127.75h0M485.25 103.60h0M487.50 94.60h0M489.60 111.75h0M491.90 78.60h0M494.00 73.75h0M496.25 62.25h0M498.75 59.00h0M500.60 34.50h0M502.75 219.75h0M505.00 130.40h0M507.25 88.00h0M509.40 106.50h0M511.50 151.60h0M513.75 100.25h0M516.00 132.50h0M518.10 243.50h0M520.00 228.10h0M522.25 289.25h0M524.75 294.00h0M526.90 216.00h0M529.00 278.50h0M531.25 327.40h0M533.50 304.00h0M535.60 261.25h0M538.10 324.90h0M540.00 304.00h0M542.25 344.75h0M544.75 318.60h0M546.90 338.50h0M548.75 347.25h0M551.00 347.25h0M553.10 339.75h0M555.25 349.40h0M557.50 349.40h0M560.00 349.40h0M561.90 281.00h0M564.40 253.10h0M566.25 341.25h0M568.10 348.10h0M570.00 351.50h0M572.50 351.02h0M575.00 351.25h0M577.08 352.10h0M579.17 352.79h0M581.25 353.50h0M583.75 353.89h0M586.25 353.55h0M588.75 353.10h0M590.92 353.75h0M593.10 355.00h0M595.00 352.25h0M597.50 355.60h0M600.00 356.72h0M602.50 356.50h0M604.37 356.22h0M606.23 356.89h0M608.10 357.25h0M611.25 355.60h0M613.12 355.96h0M615.00 355.60h0M616.88 354.19h0M618.75 353.75h0M621.25 350.25h0M623.10 353.10h0M625.30 352.28h0M627.50 351.50h0M630.60 350.60h0M632.25 348.50h0M634.58 348.10h0M636.90 349.00h0M638.75 336.00h0M641.00 345.00h0M643.50 345.60h0M645.60 349.40h0M647.50 350.00h0M649.40 347.75h0M651.74 347.86h0M654.08 347.87h0M656.41 347.48h0M658.75 347.25h0M660.83 347.98h0M662.92 347.41h0M665.00 348.15h0M667.08 348.22h0M669.17 348.40h0M671.25 348.50h0M673.75 346.25h0M676.25 346.61h0M678.75 347.56h0M681.25 347.50h0M683.75 348.04h0M686.25 347.30h0M688.75 347.25h0M691.25 348.35h0M693.75 349.00h0M695.62 347.33h0M697.50 346.90h0M700.00 347.72h0M702.50 348.17h0M705.00 348.50h0M706.90 350.00h0M708.92 350.54h0M710.95 350.15h0M712.98 349.25h0M715.00 349.40h0M717.12 349.36h0M719.24 349.88h0M721.36 349.09h0M723.48 349.83h0M725.60 350.00h0" stroke="#ff0000" stroke-width="3.2" stroke-linecap="round" fill="none"/>
<text x="85.6" y="390.5" font-family="'Liberation Sans', Arial, Helvetica, sans-serif" font-size="16.4" font-weight="bold" fill="#ff0000" text-anchor="end">0.00</text>
<text x="19.6" y="390.5" font-family="'Liberation Sans', Arial, Helvetica, sans-serif" font-size="16.4" fill="#d4cf87" stroke="#d4cf87" stroke-width="0.35" text-anchor="middle">980</text>
<text x="749.5" y="390.5" font-family="'Liberation Sans', Arial, Helvetica, sans-serif" font-size="16.4" font-weight="bold" fill="#0000ff" text-anchor="middle">0</text>
<text x="788.7" y="390.5" font-family="'Liberation Sans', Arial, Helvetica, sans-serif" font-size="16.4" fill="#cccccc" stroke="#cccccc" stroke-width="0.35" text-anchor="middle">10</text>
<text x="85.6" y="320.7" font-family="'Liberation Sans', Arial, Helvetica, sans-serif" font-size="16.4" font-weight="bold" fill="#ff0000" text-anchor="end">0.04</text>
<text x="19.6" y="320.7" font-family="'Liberation Sans', Arial, Helvetica, sans-serif" font-size="16.4" fill="#d4cf87" stroke="#d4cf87" stroke-width="0.35" text-anchor="middle">990</text>
<text x="749.5" y="320.7" font-family="'Liberation Sans', Arial, Helvetica, sans-serif" font-size="16.4" font-weight="bold" fill="#0000ff" text-anchor="middle">20</text>
<text x="788.7" y="320.7" font-family="'Liberation Sans', Arial, Helvetica, sans-serif" font-size="16.4" fill="#cccccc" stroke="#cccccc" stroke-width="0.35" text-anchor="middle">15</text>
<text x="85.6" y="250.9" font-family="'Liberation Sans', Arial, Helvetica, sans-serif" font-size="16.4" font-weight="bold" fill="#ff0000" text-anchor="end">0.08</text>
<text x="19.6" y="250.9" font-family="'Liberation Sans', Arial, Helvetica, sans-serif" font-size="16.4" fill="#d4cf87" stroke="#d4cf87" stroke-width="0.35" text-anchor="middle">1000</text>
<text x="749.5" y="250.9" font-family="'Liberation Sans', Arial, Helvetica, sans-serif" font-size="16.4" font-weight="bold" fill="#0000ff" text-anchor="middle">40</text>
<text x="788.7" y="250.9" font-family="'Liberation Sans', Arial, Helvetica, sans-serif" font-size="16.4" fill="#cccccc" stroke="#cccccc" stroke-width="0.35" text-anchor="middle">20</text>
<text x="85.6" y="181.1" font-family="'Liberation Sans', Arial, Helvetica, sans-serif" font-size="16.4" font-weight="bold" fill="#ff0000" text-anchor="end">0.12</text>
<text x="19.6" y="181.1" font-family="'Liberation Sans', Arial, Helvetica, sans-serif" font-size="16.4" fill="#d4cf87" stroke="#d4cf87" stroke-width="0.35" text-anchor="middle">1010</text>
<text x="749.5" y="181.1" font-family="'Liberation Sans', Arial, Helvetica, sans-serif" font-size="16.4" font-weight="bold" fill="#0000ff" text-anchor="middle">60</text>
<text x="788.7" y="181.1" font-family="'Liberation Sans', Arial, Helvetica, sans-serif" font-size="16.4" fill="#cccccc" stroke="#cccccc" stroke-width="0.35" text-anchor="middle">25</text>
<text x="85.6" y="111.3" font-family="'Liberation Sans', Arial, Helvetica, sans-serif" font-size="16.4" font-weight="bold" fill="#ff0000" text-anchor="end">0.16</text>
<text x="19.6" y="111.3" font-family="'Liberation Sans', Arial, Helvetica, sans-serif" font-size="16.4" fill="#d4cf87" stroke="#d4cf87" stroke-width="0.35" text-anchor="middle">1020</text>
<text x="749.5" y="111.3" font-family="'Liberation Sans', Arial, Helvetica, sans-serif" font-size="16.4" font-weight="bold" fill="#0000ff" text-anchor="middle">80</text>
<text x="788.7" y="111.3" font-family="'Liberation Sans', Arial, Helvetica, sans-serif" font-size="16.4" fill="#cccccc" stroke="#cccccc" stroke-width="0.35" text-anchor="middle">30</text>
<text x="85.6" y="41.5" font-family="'Liberation Sans', Arial, Helvetica, sans-serif" font-size="16.4" font-weight="bold" fill="#ff0000" text-anchor="end">0.20</text>
<text x="19.6" y="41.5" font-family="'Liberation Sans', Arial, Helvetica, sans-serif" font-size="16.4" fill="#d4cf87" stroke="#d4cf87" stroke-width="0.35" text-anchor="middle">1030</text>
<text x="749.5" y="41.5" font-family="'Liberation Sans', Arial, Helvetica, sans-serif" font-size="16.4" font-weight="bold" fill="#0000ff" text-anchor="middle">100</text>
<text x="788.7" y="41.5" font-family="'Liberation Sans', Arial, Helvetica, sans-serif" font-size="16.4" fill="#cccccc" stroke="#cccccc" stroke-width="0.35" text-anchor="middle">35</text>
<text x="94.5" y="408.4" font-family="'Liberation Sans', Arial, Helvetica, sans-serif" font-size="17.5" font-weight="bold" fill="#000" text-anchor="middle">00:00</text>
<text x="173.5" y="408.4" font-family="'Liberation Sans', Arial, Helvetica, sans-serif" font-size="17.5" font-weight="bold" fill="#000" text-anchor="middle">03:00</text>
<text x="252.5" y="408.4" font-family="'Liberation Sans', Arial, Helvetica, sans-serif" font-size="17.5" font-weight="bold" fill="#000" text-anchor="middle">06:00</text>
<text x="331.5" y="408.4" font-family="'Liberation Sans', Arial, Helvetica, sans-serif" font-size="17.5" font-weight="bold" fill="#000" text-anchor="middle">09:00</text>
<text x="410.5" y="408.4" font-family="'Liberation Sans', Arial, Helvetica, sans-serif" font-size="17.5" font-weight="bold" fill="#000" text-anchor="middle">12:00</text>
<text x="489.5" y="408.4" font-family="'Liberation Sans', Arial, Helvetica, sans-serif" font-size="17.5" font-weight="bold" fill="#000" text-anchor="middle">15:00</text>
<text x="568.5" y="408.4" font-family="'Liberation Sans', Arial, Helvetica, sans-serif" font-size="17.5" font-weight="bold" fill="#000" text-anchor="middle">18:00</text>
<text x="647.5" y="408.4" font-family="'Liberation Sans', Arial, Helvetica, sans-serif" font-size="17.5" font-weight="bold" fill="#000" text-anchor="middle">21:00</text>
<text x="726.5" y="408.4" font-family="'Liberation Sans', Arial, Helvetica, sans-serif" font-size="17.5" font-weight="bold" fill="#000" text-anchor="middle">00:00</text>
<text x="415.4" y="427.3" font-family="'Liberation Sans', Arial, Helvetica, sans-serif" font-size="17.5" font-weight="bold" fill="#000" text-anchor="middle">Time (JST)</text>
<text x="726.5" y="427.3" font-family="'Liberation Sans', Arial, Helvetica, sans-serif" font-size="17.5" font-weight="bold" fill="#000" text-anchor="end">2010-02-23</text>
<g font-family="'Liberation Sans', Arial, Helvetica, sans-serif" font-size="18.4" font-weight="bold">
<text transform="translate(81.50,24.6) scale(0.690,1)" fill="#ff0000" stroke="#ff0000" stroke-width="0.25">−</text>
<text transform="translate(94.00,23.0) scale(0.857,1)" fill="#ff0000" >Scattering Coefficient (km<tspan font-size="9.5" dy="-8.5">-1</tspan><tspan dy="8.5">)</tspan></text>
<text transform="translate(307.20,24.6) scale(0.690,1)" fill="#0000ff" stroke="#0000ff" stroke-width="0.25">−</text>
<text transform="translate(319.90,23.0) scale(0.857,1)" fill="#0000ff" >Relative Humidity(%)</text>
<text transform="translate(482.20,24.6) scale(0.690,1)" fill="#d4cf87" stroke="#d4cf87" stroke-width="0.25">−</text>
<text transform="translate(494.90,23.0) scale(0.857,1)" fill="#d4cf87" >Pressure (hPa)</text>
<text transform="translate(609.70,24.6) scale(0.690,1)" fill="#cccccc" stroke="#cccccc" stroke-width="0.25">−</text>
<text transform="translate(623.40,23.0) scale(0.857,1)" fill="#cccccc" >Temperature (</text>
<text x="725.8" y="12.4" fill="#cccccc" font-size="12.5" font-weight="normal">°</text>
<text transform="translate(729.40,23.0) scale(0.857,1)" fill="#cccccc" >C)</text>
</g>
</svg>
</body></html>
